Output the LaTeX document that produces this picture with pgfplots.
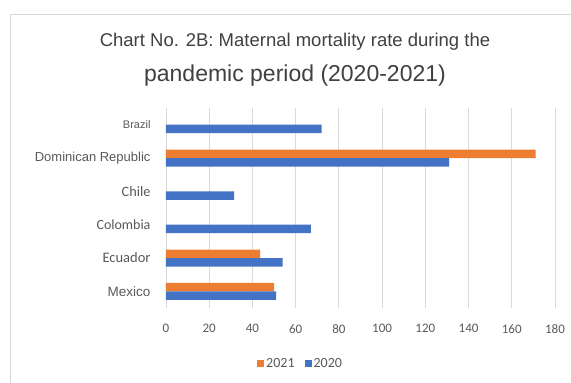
\documentclass[border=0pt]{standalone}
\usepackage{pgfplots}
\pgfplotsset{compat=1.18}
\usepackage{fontspec}
\setmainfont{Liberation Sans}
\newfontfamily\carlito{Carlito}
\definecolor{barorange}{HTML}{ED7D31}
\definecolor{barblue}{HTML}{4472C4}
\definecolor{gridgray}{HTML}{D9D9D9}
\definecolor{txtgray}{HTML}{595959}
\definecolor{titlegray}{HTML}{404040}
\begin{document}
\begin{tikzpicture}
\useasboundingbox (0pt,0pt) rectangle (571pt,383pt);
% chart frame
\draw[gridgray, line width=1pt] (571pt,368pt) -- (10pt,368pt) -- (10pt,0pt);
% title
\node[titlegray, font=\fontsize{18.5}{20}\selectfont] at (295pt,341pt) {Chart No. 2B: Maternal mortality rate during the};
\node[titlegray, font=\fontsize{23}{25}\selectfont] at (295pt,307pt) {pandemic period (2020-2021)};
\begin{axis}[
  at={(166pt,75pt)}, anchor=south west,
  scale only axis, width=389pt, height=200pt,
  xmin=0, xmax=180, ymin=-0.5, ymax=5.5,
  xbar, bar width=8.5pt,
  axis line style={draw=none},
  major tick length=0pt,
  xtick={0,20,...,180},
  xmajorgrids, grid style={gridgray, line width=0.8pt},
  ytick={0,1,2,3,4,5},
  yticklabels={
    {\fontsize{13.5}{14}\selectfont Mexico},
    {\carlito\fontsize{14.5}{15}\selectfont Ecuador},
    {\carlito\fontsize{14}{15}\selectfont Colombia},
    {\carlito\fontsize{14.3}{15}\selectfont Chile},
    {\fontsize{13}{14}\selectfont Dominican Republic},
    {\fontsize{11}{12}\selectfont Brazil}},
  yticklabel style={txtgray, anchor=east, xshift=-12pt},
  xticklabel style={txtgray, font=\carlito\fontsize{13}{14}\selectfont, yshift=-13pt},
  /pgf/number format/assume math mode=true,
  legend style={at={(0.346,-0.28)}, anchor=center, draw=none,
    legend columns=2, font=\carlito\fontsize{14}{15}\selectfont, text=txtgray,
    /tikz/every even column/.append style={column sep=8pt}},
  legend image code/.code={\fill[#1] (0pt,-3.5pt) rectangle (7pt,3.5pt);},
]
\addplot[fill=barorange, draw=none, bar shift=4.25pt] coordinates {
  (50,0) (43.5,1) (171,4)
};
\addplot[fill=barblue, draw=none, bar shift=-4.25pt] coordinates {
  (51,0) (54,1) (67,2) (31.5,3) (131,4) (72,5)
};
\legend{2021,2020}
\end{axis}
\end{tikzpicture}
\end{document}
